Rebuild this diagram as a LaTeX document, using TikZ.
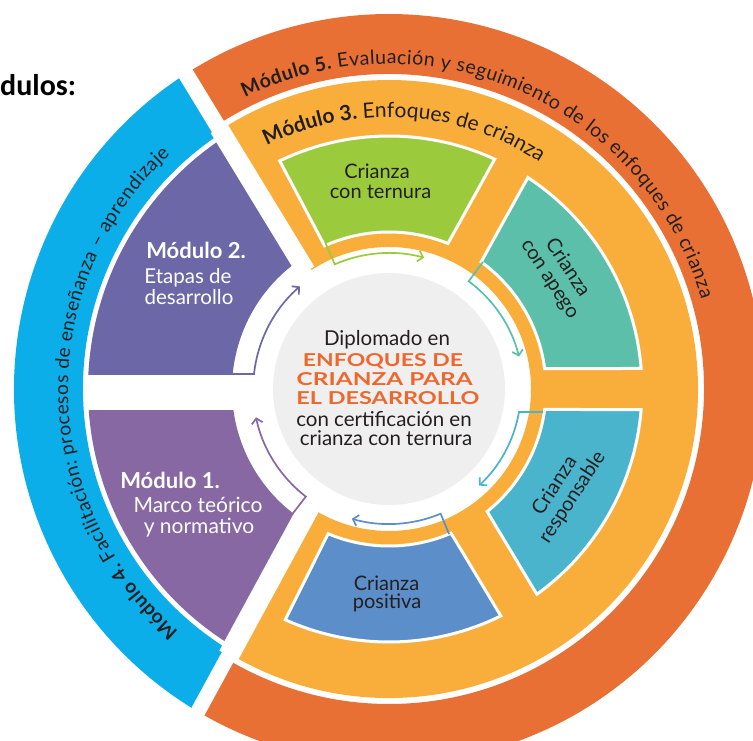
\documentclass[tikz,border=0pt]{standalone}
\usepackage{fontspec}
\setmainfont{Lato}
\newfontfamily\headfont{Carlito}
\usetikzlibrary{decorations.text,arrows.meta}

\definecolor{cOrange}{RGB}{232,112,52}
\definecolor{cYellow}{RGB}{249,174,59}
\definecolor{cSky}{RGB}{12,174,234}
\definecolor{cPurpA}{RGB}{108,104,168}
\definecolor{cPurpB}{RGB}{135,104,163}
\definecolor{cGreen}{RGB}{155,203,60}
\definecolor{cTeal}{RGB}{91,191,169}
\definecolor{cCyan}{RGB}{75,180,205}
\definecolor{cBlue}{RGB}{92,142,201}
\definecolor{cGray}{RGB}{239,239,239}
\definecolor{cTitle}{RGB}{238,104,45}
\definecolor{cInk}{RGB}{35,31,32}

\newcommand\rfont[1]{\fontsize{#1}{22}\selectfont}
\newcommand\annsec[5]{\path[boxsec,fill=#1] (#2:157) -- (#3:253) arc[start angle=#3,end angle=#4,radius=253] -- (#5:157) arc[start angle=#5,end angle=#2,radius=157] -- cycle;}

\begin{document}
\begin{tikzpicture}[x=1pt,y=1pt,
  boxsec/.style={draw=white,line width=3pt},
  gapstrip/.style={draw=white,line cap=butt},
  cyc/.style={line width=1.7pt,-{Straight Barb[length=5pt,width=11pt]}},
  boxtext/.style={font=\fontsize{20}{21}\selectfont,text=cInk,inner sep=0pt,align=center},
  modtext/.style={text=white,inner sep=0pt,anchor=base},
  ctr/.style={inner sep=0pt,anchor=base},
  ringtext/.style={decorate,decoration={text along path,text align=fit to path,text color=cInk}}
]
\useasboundingbox (-389,-351) rectangle (364,389);
\clip (-389,-351) rectangle (364,389);

% outer rings
\fill[cOrange] (-121:375) arc[start angle=-121,end angle=123,radius=375] -- (123:315) arc[start angle=123,end angle=-121,radius=315] -- cycle;
\fill[cSky] (123:375) arc[start angle=123,end angle=239,radius=375] -- (239:306) arc[start angle=239,end angle=123,radius=306] -- cycle;
% module 3 region
\fill[cYellow] (-121:309) arc[start angle=-121,end angle=123,radius=309] -- (123:142) arc[start angle=123,end angle=-121,radius=142] -- cycle;
% modules 2 and 1
\fill[cPurpA] (123:301) arc[start angle=123,end angle=180,radius=301] -- (180:157) arc[start angle=180,end angle=123,radius=157] -- cycle;
\fill[cPurpB] (180:301) arc[start angle=180,end angle=239,radius=301] -- (239:157) arc[start angle=239,end angle=180,radius=157] -- cycle;

% white gaps
\draw[gapstrip,line width=16pt] (-218,339.6) -- (-169.1,259.2);
\draw[gapstrip,line width=19pt] (-170.2,260.9) -- (-82.8,117.5);
\draw[gapstrip,line width=15pt] (-208.3,-354.3) -- (-159.5,-264.7);
\draw[gapstrip,line width=21pt] (-160.5,-266.7) -- (-79.2,-117.2);
\fill[white] (-304,-21) rectangle (-140,14);

% inner boxes
\annsec{cGreen}{114.2}{115.6}{65.3}{67.95}
\annsec{cTeal}{54.05}{56.7}{4.65}{7.5}
\annsec{cCyan}{-7.5}{-4.65}{-54.24}{-51.3}
\annsec{cBlue}{-66.7}{-63.76}{-114.2}{-112.8}

% centre
\fill[cGray] (0,0) circle[radius=116];

% cycle arrows
\coordinate (a1s) at (232.3:158);
\draw[cyc,cPurpB] (a1s) -- (232.3:136) arc[start angle=232.3,end angle=192,radius=136];
\coordinate (a2s) at (-157,15);
\draw[cyc,cPurpA] (a2s) -- (-135,15) arc[start angle=173.7,end angle=131,radius=135.8];
\coordinate (a3s) at (113.5:160);
\draw[cyc,cGreen] (a3s) -- (113.5:136) arc[start angle=113.5,end angle=75,radius=136];
\coordinate (a4s) at (53.5:158);
\draw[cyc,cTeal] (a4s) -- (53.5:134) arc[start angle=53.5,end angle=14,radius=134];
\coordinate (a5s) at (154,-23);
\draw[cyc,cCyan] (a5s) -- (130,-23) arc[start angle=-10.03,end angle=-47,radius=132];
\coordinate (a6s) at (-67.5:157);
\draw[cyc,cBlue] (a6s) -- (-67.5:135) arc[start angle=-67.5,end angle=-106,radius=135];

% ring texts
\path[ringtext,decoration={text={|\rfont{19.5}\bfseries|Módulo 5.|\rfont{19.5}\mdseries| Evaluación y seguimiento de los enfoques de crianza}}] (116.3:325) arc[start angle=116.3,end angle=16,radius=325];
\path[ringtext,decoration={text={|\rfont{21}\bfseries|Módulo 3.|\rfont{21}\mdseries| Enfoques de crianza}}] (116.7:272) arc[start angle=116.7,end angle=56.4,radius=272];
\path[ringtext,decoration={text={|\rfont{19.2}\bfseries|Módulo 4.|\rfont{19.2}\mdseries| Facilitación: procesos de enseñanza – aprendizaje}}] (229:321) arc[start angle=229,end angle=133,radius=321];

% module labels
\node[modtext,font=\fontsize{22}{22}\selectfont\bfseries] (m2a) at (-193,131) {Módulo 2.};
\node[modtext,font=\fontsize{20.5}{20}\selectfont] (m2b) at (-201,106) {Etapas de};
\node[modtext,font=\fontsize{20.5}{20}\selectfont] (m2c) at (-200,85) {desarrollo};
\node[modtext,font=\fontsize{22}{22}\selectfont\bfseries] (m1a) at (-219,-99) {Módulo 1.};
\node[modtext,font=\fontsize{21}{20}\selectfont] (m1b) at (-191,-123) {Marco teórico};
\node[modtext,font=\fontsize{21}{20}\selectfont] (m1c) at (-190,-144) {y normativo};

% box labels
\node[boxtext,anchor=base] (g1) at (-12,211) {Crianza};
\node[boxtext,anchor=base] (g2) at (-8.5,191) {con ternura};
\node[boxtext,rotate=-57] (tl) at (169.5,115.5) {Crianza\\con apego};
\node[boxtext,rotate=57] (cl) at (174.75,-102.75) {Crianza\\responsable};
\node[boxtext,anchor=base] (b1) at (-2.5,-201) {Crianza};
\node[boxtext,anchor=base] (b2) at (-2,-219) {positiva};

% centre text
\node[ctr,font=\fontsize{20.5}{20}\selectfont,text=cInk] (c1) at (-2,44) {Diplomado en};
\node[ctr,text=cTitle] (c2) at (-6,23) {\resizebox{160pt}{13pt}{\bfseries ENFOQUES DE}};
\node[ctr,text=cTitle] (c3) at (-4.3,4) {\resizebox{176pt}{13pt}{\bfseries CRIANZA PARA}};
\node[ctr,text=cTitle] (c4) at (-1,-15) {\resizebox{183pt}{13pt}{\bfseries EL DESARROLLO}};
\node[ctr,font=\fontsize{20.5}{20}\selectfont,text=cInk] (c5) at (-5,-37) {con certificación en};
\node[ctr,font=\fontsize{20.5}{20}\selectfont,text=cInk] (c6) at (-3,-56) {crianza con ternura};

% heading fragment
\node[inner sep=0pt,anchor=base west,font=\headfont\bfseries\fontsize{30}{30}\selectfont,text=black] (head) at (-389,294) {dulos:};
\end{tikzpicture}
\end{document}
